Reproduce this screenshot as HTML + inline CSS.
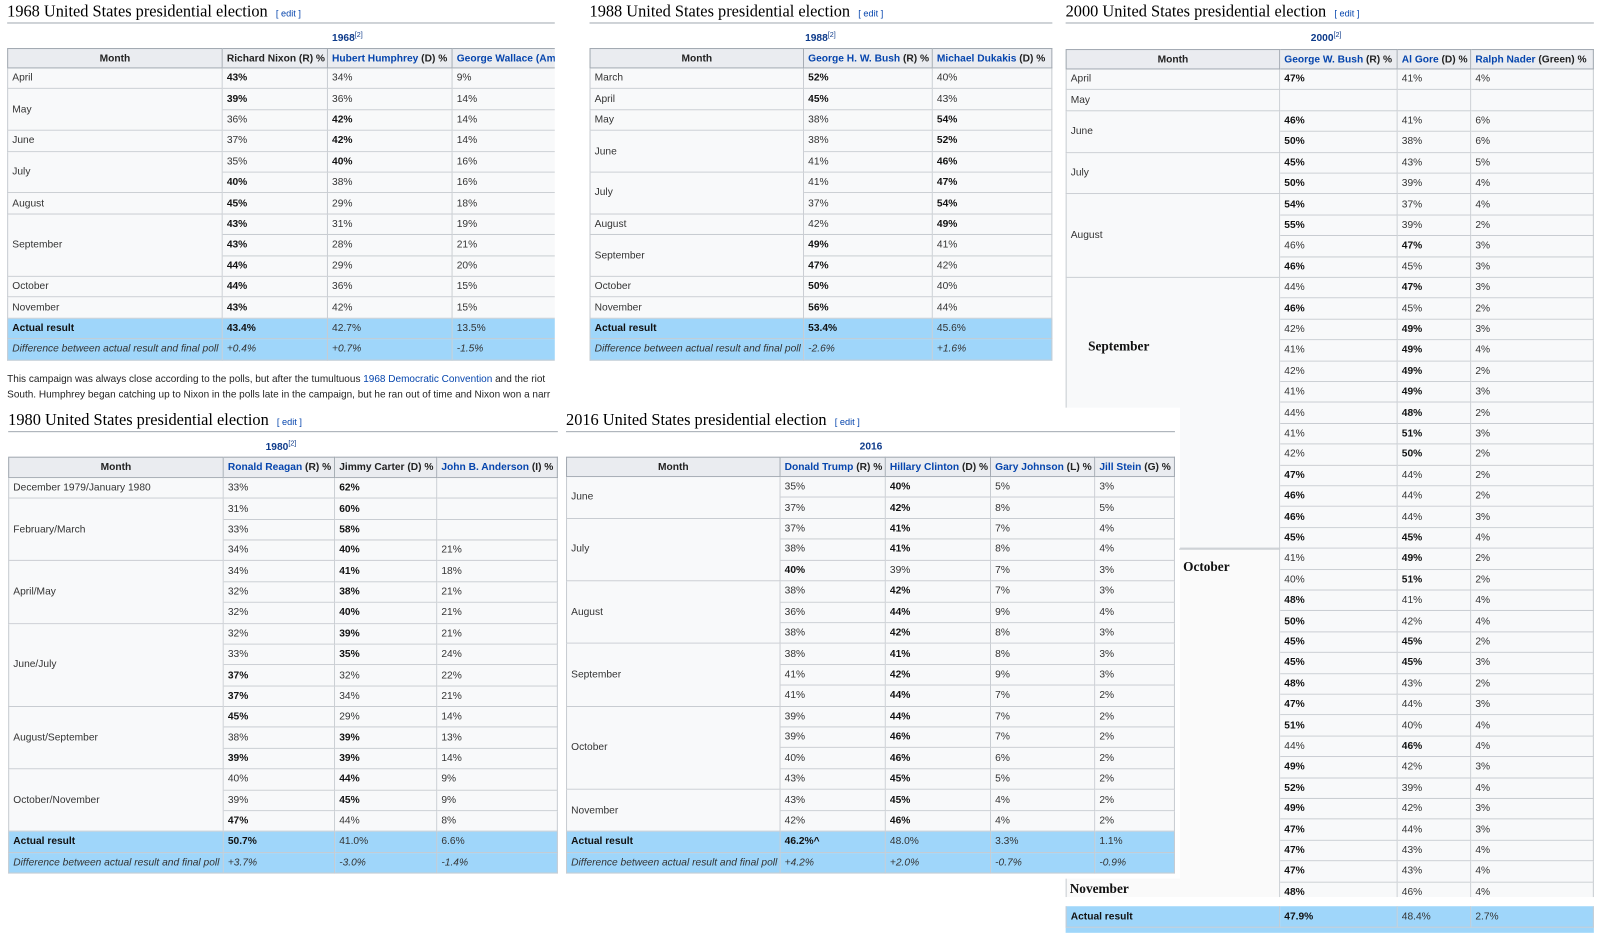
<!DOCTYPE html>
<html><head><meta charset="utf-8">
<style>
html,body{margin:0;padding:0;background:#fff;width:1600px;height:942px;overflow:hidden}
#w{position:absolute;left:0;top:0;width:1566px;height:922px;transform:scale(1.0217);transform-origin:0 0;font-family:"Liberation Sans",Arial,sans-serif;color:#222}
.c{position:absolute;box-sizing:border-box;border-right:1px solid #c8ccd1;border-bottom:1px solid #c8ccd1;font-size:10px;padding-left:4px;display:flex;align-items:center;white-space:nowrap;overflow:hidden;background:#f8f9fa;color:#333}
.h{background:#eaecf0;font-weight:bold;color:#222;border-color:#a2a9b1}
.b{font-weight:bold;color:#111}
.a{background:#9fd6fa}
.i{font-style:italic}
.t{position:absolute;font-family:"Liberation Serif",serif;font-size:16px;color:#000;white-space:nowrap}
.t span{font-family:"Liberation Sans",sans-serif;font-size:9px;color:#0645ad;margin-left:8px}
.rule{position:absolute;height:1px;background:#a2a9b1}
.cap{position:absolute;font-size:10px;font-weight:bold;color:#0d3a8a;text-align:center}
.cap sup{font-size:7px;font-weight:normal}
.L{color:#0645ad}
.big{position:absolute;font-family:"Liberation Serif",serif;font-weight:bold;font-size:13px;color:#111}
</style></head><body><div id="w"></div>
<script>
var W=document.getElementById('w');
function d(cls,x,y,w,h,html,st){var e=document.createElement('div');e.className=cls;e.style.cssText='left:'+x+'px;top:'+y+'px;width:'+w+'px;height:'+h+'px;'+(st||'');e.innerHTML=html||'';W.appendChild(e);return e;}
function cell(x,y,w,h,t,extra){var b=t.charAt(0)=='*';if(b)t=t.slice(1);return d('c'+(b?' b':'')+(extra?' '+extra:''),x,y,w,h,t);}
function table(o){
 var X=o.cols,y=o.y,rh=o.rh;
 for(var j=0;j<X.length-1;j++){d('c h',X[j],y,X[j+1]-X[j],o.hh,o.heads[j],(j==0?'justify-content:center;padding:0;':'')+'border-top:1px solid #a2a9b1;'+(j==0?'border-left:1px solid #a2a9b1;':''));}
 y+=o.hh;var r=0;
 o.groups.forEach(function(g){
   var e=d('c',X[0],y+r*rh,X[1]-X[0],g[1]*rh,g[0],'border-left:1px solid #c8ccd1;');
   if(g[2])e.style.cssText+=g[2];
   r+=g[1];});
 o.rows.forEach(function(row,i){for(var j=0;j<row.length;j++)cell(X[j+1],y+i*rh,X[j+2]-X[j+1],rh,row[j]);});
 var n=o.rows.length;
 if(o.actual){var yy=y+n*rh;d('c a b',X[0],yy,X[1]-X[0],rh,'Actual result','border-left:1px solid #c8ccd1;');
  o.actual.forEach(function(t,j){cell(X[j+1],yy,X[j+2]-X[j+1],rh,t,'a');});}
 if(o.diff){var yy=y+(n+1)*rh;d('c a i',X[0],yy,X[1]-X[0],rh,'Difference between actual result and final poll','border-left:1px solid #c8ccd1;');
  o.diff.forEach(function(t,j){cell(X[j+1],yy,X[j+2]-X[j+1],rh,t,'a i');});}
}
function title(x,y,w,txt){d('t',x,y,w,20,txt+'<span>[ edit ]</span>');d('rule',x,y+19,w,1);}
function cap(x,w,y,t,s){d('cap',x,y,w,14,t+(s?'<sup>[2]</sup>':''));}
function L(n,r){return '<span class="L">'+n+'</span>&nbsp;'+r;}

title(1043,3,517,'2000 United States presidential election');
cap(1253,90,31,'2000',1);
var r2000=[['*47%','41%','4%'],['','',''],['*46%','41%','6%'],['*50%','38%','6%'],['*45%','43%','5%'],['*50%','39%','4%'],
['*54%','37%','4%'],['*55%','39%','2%'],['46%','*47%','3%'],['*46%','45%','3%'],
['44%','*47%','3%'],['*46%','45%','2%'],['42%','*49%','3%'],['41%','*49%','4%'],['42%','*49%','2%'],['41%','*49%','3%'],['44%','*48%','2%'],['41%','*51%','3%'],['42%','*50%','2%'],['*47%','44%','2%'],['*46%','44%','2%'],['*46%','44%','3%'],['*45%','*45%','4%'],
['41%','*49%','2%'],['40%','*51%','2%'],['*48%','41%','4%'],['*50%','42%','4%'],['*45%','*45%','2%'],['*45%','*45%','3%'],['*48%','43%','2%'],['*47%','44%','3%'],['*51%','40%','4%'],['44%','*46%','4%'],['*49%','42%','3%'],['*52%','39%','4%'],['*49%','42%','3%'],['*47%','44%','3%'],['*47%','43%','4%'],['*47%','43%','4%'],['*48%','46%','4%']];
table({cols:[1043,1253,1368,1440,1560],y:48,hh:20,rh:20.4,
 heads:['Month',L('George W. Bush','(R) %'),L('Al Gore','(D) %'),L('Ralph Nader','(Green) %')],
 groups:[['April',1],['May',1],['June',2],['July',2],['August',4],['',13,'background:#f8f9fa;'],['',17,'background:#fafafa;border-bottom:none;']],
 rows:r2000});
d('',1040,878,525,9,'','position:absolute;background:#fff;');
d('c a b',1043,887,210,21,'Actual result','border-left:1px solid #c8ccd1;');
cell(1253,887,115,21,'*47.9%','a');cell(1368,887,72,21,'48.4%','a');cell(1440,887,120,21,'2.7%','a');
d('',1043,908,517,5,'','position:absolute;background:#9fd6fa;');
d('big',1065,331,100,16,'September');

title(7,3,536,'1968 United States presidential election');
cap(300,80,31,'1968',1);
table({cols:[7,218,321,443,560],y:47,hh:20,rh:20.4,
 heads:['Month','Richard Nixon (R) %',L('Hubert Humphrey','(D) %'),L('George Wallace (Am','')],
 groups:[['April',1],['May',2],['June',1],['July',2],['August',1],['September',3],['October',1],['November',1]],
 rows:[['*43%','34%','9%'],['*39%','36%','14%'],['36%','*42%','14%'],['37%','*42%','14%'],['35%','*40%','16%'],['*40%','38%','16%'],['*45%','29%','18%'],['*43%','31%','19%'],['*43%','28%','21%'],['*44%','29%','20%'],['*44%','36%','15%'],['*43%','42%','15%']],
 actual:['*43.4%','42.7%','13.5%'],diff:['+0.4%','+0.7%','-1.5%']});
d('',543,40,30,320,'','position:absolute;background:#fff;');
d('',7,364,536,30,'This campaign was always close according to the polls, but after the tumultuous <span class="L">1968 Democratic Convention</span> and the riot<br>South. Humphrey began catching up to Nixon in the polls late in the campaign, but he ran out of time and Nixon won a narr','position:absolute;font-size:9.8px;line-height:15px;color:#222;white-space:nowrap;overflow:hidden;');

title(577,3,453,'1988 United States presidential election');
cap(763,80,31,'1988',1);
table({cols:[577,787,913,1030],y:47,hh:20,rh:20.4,
 heads:['Month',L('George H. W. Bush','(R) %'),L('Michael Dukakis','(D) %')],
 groups:[['March',1],['April',1],['May',1],['June',2],['July',2],['August',1],['September',2],['October',1],['November',1]],
 rows:[['*52%','40%'],['*45%','43%'],['38%','*54%'],['38%','*52%'],['41%','*46%'],['41%','*47%'],['37%','*54%'],['42%','*49%'],['*49%','41%'],['*47%','42%'],['*50%','40%'],['*56%','44%']],
 actual:['*53.4%','45.6%'],diff:['-2.6%','+1.6%']});

title(8,403,538,'1980 United States presidential election');
cap(235,80,431,'1980',1);
table({cols:[8,219,328,428,546],y:447,hh:21,rh:20.37,
 heads:['Month',L('Ronald Reagan','(R) %'),'Jimmy Carter (D) %',L('John B. Anderson','(I) %')],
 groups:[['December 1979/January 1980',1],['February/March',3],['April/May',3],['June/July',4],['August/September',3],['October/November',3]],
 rows:[['33%','*62%',''],['31%','*60%',''],['33%','*58%',''],['34%','*40%','21%'],['34%','*41%','18%'],['32%','*38%','21%'],['32%','*40%','21%'],['32%','*39%','21%'],['33%','*35%','24%'],['*37%','32%','22%'],['*37%','34%','21%'],['*45%','29%','14%'],['38%','*39%','13%'],['*39%','*39%','14%'],['40%','*44%','9%'],['39%','*45%','9%'],['*47%','44%','8%']],
 actual:['*50.7%','41.0%','6.6%'],diff:['+3.7%','-3.0%','-1.4%']});

d('',550,399,605,461,'','position:absolute;background:#fff;');
title(554,403,596,'2016 United States presidential election');
cap(815,75,432,'2016',0);
table({cols:[554,764,867,970,1072,1150],y:447,hh:20,rh:20.42,
 heads:['Month',L('Donald Trump','(R) %'),L('Hillary Clinton','(D) %'),L('Gary Johnson','(L) %'),L('Jill Stein','(G) %')],
 groups:[['June',2],['July',3],['August',3],['September',3],['October',4],['November',2]],
 rows:[['35%','*40%','5%','3%'],['37%','*42%','8%','5%'],['37%','*41%','7%','4%'],['38%','*41%','8%','4%'],['*40%','39%','7%','3%'],['38%','*42%','7%','3%'],['36%','*44%','9%','4%'],['38%','*42%','8%','3%'],['38%','*41%','8%','3%'],['41%','*42%','9%','3%'],['41%','*44%','7%','2%'],['39%','*44%','7%','2%'],['39%','*46%','7%','2%'],['40%','*46%','6%','2%'],['43%','*45%','5%','2%'],['43%','*45%','4%','2%'],['42%','*46%','4%','2%']],
 actual:['*46.2%^','48.0%','3.3%','1.1%'],diff:['+4.2%','+2.0%','-0.7%','-0.9%']});

d('',1154,537,99,1,'','position:absolute;background:#c8ccd1;');
d('big',1158,547,90,16,'October');
d('big',1047,862,90,16,'November');
</script></body></html>
